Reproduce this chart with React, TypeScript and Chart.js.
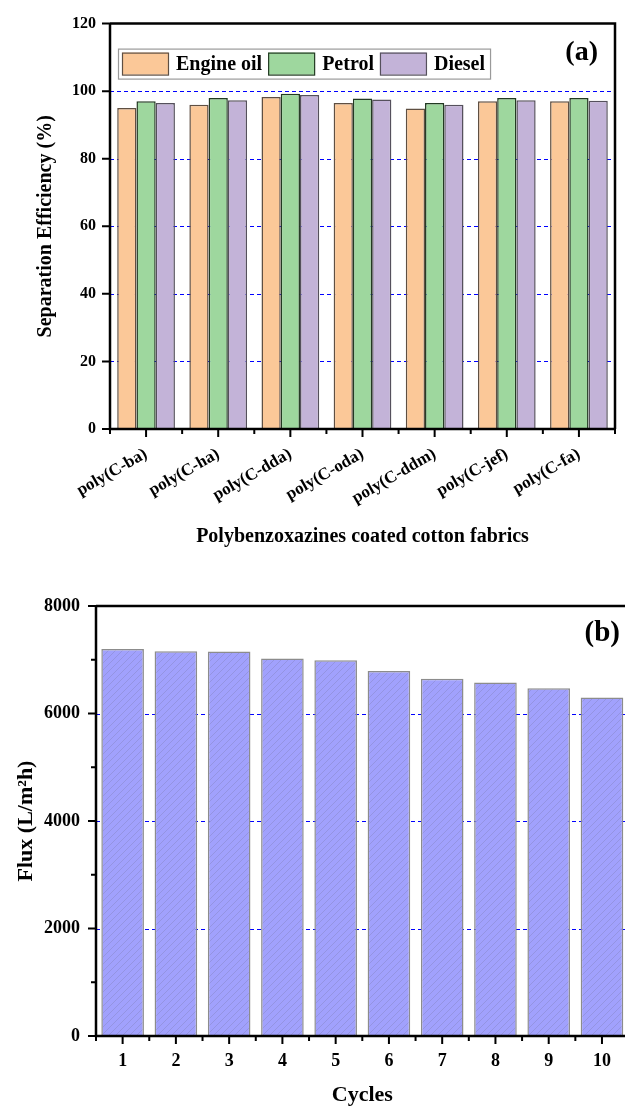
import React, { useEffect, useRef } from 'react';
import { Chart, registerables } from 'chart.js';

Chart.register(...registerables);

const FONT = "'Liberation Serif', 'Times New Roman', Times, serif";

// ---------- Panel (a) data ----------
const categoriesA = ['poly(C-ba)', 'poly(C-ha)', 'poly(C-dda)', 'poly(C-oda)', 'poly(C-ddm)', 'poly(C-jef)', 'poly(C-fa)'];
const engineOil = [95.0, 96.0, 98.3, 96.5, 94.9, 97.0, 97.0];
const petrol = [97.0, 98.0, 99.2, 97.8, 96.5, 98.0, 98.0];
const diesel = [96.5, 97.3, 98.9, 97.5, 96.0, 97.3, 97.2];
const yTicksA = [0, 20, 40, 60, 80, 100, 120];
const seriesNamesA = ['Engine oil', 'Petrol', 'Diesel'];

// ---------- Panel (b) data ----------
const cycles = ['1', '2', '3', '4', '5', '6', '7', '8', '9', '10'];
const flux = [7200, 7160, 7155, 7025, 6990, 6790, 6645, 6575, 6470, 6300];
const yTicksB = [0, 2000, 4000, 6000, 8000];
const yMinorB = [1000, 3000, 5000, 7000];

function makeHatch(): CanvasPattern | string {
  const s = 7;
  const c = document.createElement('canvas');
  c.width = s;
  c.height = s;
  const g = c.getContext('2d');
  if (!g) return '#a0a0ff';
  g.fillStyle = '#a1a1fd';
  g.fillRect(0, 0, s, s);
  g.strokeStyle = 'rgba(120,120,170,0.45)';
  g.lineWidth = 0.7;
  g.beginPath();
  g.moveTo(-1, s + 1); g.lineTo(s + 1, -1);
  g.moveTo(-s / 2 - 1, s / 2 + 1); g.lineTo(s / 2 + 1, -s / 2 - 1);
  g.moveTo(s / 2 - 1, s * 1.5 + 1); g.lineTo(s * 1.5 + 1, s / 2 - 1);
  g.stroke();
  return g.createPattern(c, 'repeat') || '#a0a0ff';
}

function drawTicksAndFrame(chart: any, yMajor: number[], yMinor: number[], drawRight: boolean) {
  const { ctx, chartArea: ca, scales } = chart;
  const x = scales.x;
  const y = scales.y;
  ctx.save();
  ctx.strokeStyle = '#000';
  ctx.lineWidth = 2.5;
  ctx.setLineDash([]);
  ctx.beginPath();
  ctx.moveTo(ca.left, ca.top);
  ctx.lineTo(ca.right, ca.top);
  if (drawRight) ctx.lineTo(ca.right, ca.bottom);
  ctx.moveTo(ca.left, ca.top);
  ctx.lineTo(ca.left, ca.bottom);
  ctx.lineTo(ca.right, ca.bottom);
  ctx.stroke();
  ctx.lineWidth = 2;
  ctx.beginPath();
  for (const v of yMajor) {
    const py = y.getPixelForValue(v);
    ctx.moveTo(ca.left - 8, py);
    ctx.lineTo(ca.left, py);
  }
  for (const v of yMinor) {
    const py = y.getPixelForValue(v);
    ctx.moveTo(ca.left - 5, py);
    ctx.lineTo(ca.left, py);
  }
  const n = chart.data.labels.length;
  for (let i = 0; i < n; i++) {
    const px = x.getPixelForValue(i);
    ctx.moveTo(px, ca.bottom);
    ctx.lineTo(px, ca.bottom + 8);
  }
  const step = n > 1 ? x.getPixelForValue(1) - x.getPixelForValue(0) : 0;
  for (let i = 0; i <= n; i++) {
    const px = x.getPixelForValue(0) - step / 2 + i * step;
    ctx.moveTo(px, ca.bottom);
    ctx.lineTo(px, ca.bottom + 5);
  }
  ctx.stroke();
  ctx.restore();
}

function drawDashedGrid(chart: any, values: number[], min: number, max: number) {
  const { ctx, chartArea: ca, scales } = chart;
  ctx.save();
  ctx.strokeStyle = '#0000ff';
  ctx.lineWidth = 1;
  ctx.setLineDash([4, 3]);
  for (const v of values) {
    if (v <= min || v >= max) continue;
    const py = Math.round(scales.y.getPixelForValue(v)) + 0.5;
    ctx.beginPath();
    ctx.moveTo(ca.left, py);
    ctx.lineTo(ca.right, py);
    ctx.stroke();
  }
  ctx.restore();
}

const pluginA = {
  id: 'decorA',
  beforeDatasetsDraw(chart: any) {
    drawDashedGrid(chart, yTicksA, 0, 120);
  },
  afterDatasetsDraw(chart: any) {
    drawTicksAndFrame(chart, yTicksA, [], true);
    const { ctx, chartArea: ca } = chart;
    ctx.save();
    ctx.font = `bold 20px ${FONT}`;
    ctx.textBaseline = 'middle';
    ctx.textAlign = 'left';
    const boxL = ca.left + 8;
    const boxT = ca.top + 25;
    const boxH = 30;
    let cx = boxL + 4;
    const items: { x: number; tx: number; w: number }[] = [];
    chart.data.datasets.forEach((ds: any) => {
      const w = ctx.measureText(ds.label).width;
      items.push({ x: cx, tx: cx + 46 + 8, w });
      cx = cx + 46 + 8 + w + 6;
    });
    const boxW = cx - 1 - boxL;
    ctx.fillStyle = '#fff';
    ctx.fillRect(boxL, boxT, boxW, boxH);
    ctx.strokeStyle = '#9a9a9a';
    ctx.lineWidth = 1.2;
    ctx.strokeRect(boxL + 0.5, boxT + 0.5, boxW, boxH);
    chart.data.datasets.forEach((ds: any, i: number) => {
      const it = items[i];
      ctx.fillStyle = ds.backgroundColor;
      ctx.fillRect(it.x, boxT + 4, 46, 22);
      ctx.strokeStyle = ds.borderColor;
      ctx.lineWidth = 1.2;
      ctx.strokeRect(it.x + 0.5, boxT + 4.5, 46, 22);
      ctx.fillStyle = '#000';
      ctx.fillText(ds.label, it.tx, boxT + boxH / 2 + 1);
    });
    ctx.font = `bold 28px ${FONT}`;
    ctx.textAlign = 'right';
    ctx.fillText('(a)', ca.right - 17, ca.top + 29);
    ctx.restore();
  },
};

const pluginB = {
  id: 'decorB',
  beforeDatasetsDraw(chart: any) {
    drawDashedGrid(chart, yTicksB, 0, 8000);
  },
  afterDatasetsDraw(chart: any) {
    drawTicksAndFrame(chart, yTicksB, yMinorB, true);
    const { ctx, chartArea: ca } = chart;
    ctx.save();
    ctx.font = `bold 29px ${FONT}`;
    ctx.textAlign = 'right';
    ctx.textBaseline = 'middle';
    ctx.fillStyle = '#000';
    ctx.fillText('(b)', 620, ca.top + 28);
    ctx.restore();
  },
};

export default function App() {
  const refA = useRef<HTMLCanvasElement>(null);
  const refB = useRef<HTMLCanvasElement>(null);

  useEffect(() => {
    const tickFont = (size: number) => ({ family: FONT, size, weight: 'bold' as const });

    const chartA = new Chart(refA.current as HTMLCanvasElement, {
      type: 'bar',
      data: {
        labels: categoriesA,
        datasets: [
          { label: seriesNamesA[0], data: engineOil, backgroundColor: '#fbc898', borderColor: '#5f4f42', borderWidth: 1.5, categoryPercentage: 0.8, barPercentage: 1.0 },
          { label: seriesNamesA[1], data: petrol, backgroundColor: '#9ed79e', borderColor: '#223a22', borderWidth: 1.5, categoryPercentage: 0.8, barPercentage: 1.0 },
          { label: seriesNamesA[2], data: diesel, backgroundColor: '#c3b3d8', borderColor: '#55505c', borderWidth: 1.5, categoryPercentage: 0.8, barPercentage: 1.0 },
        ],
      },
      options: {
        responsive: false,
        animation: false,
        layout: { padding: { left: 0, top: 22, right: 10, bottom: 0 } },
        plugins: { legend: { display: false }, tooltip: { enabled: false } },
        scales: {
          x: {
            type: 'category',
            offset: true,
            grid: { display: false, drawTicks: false },
            border: { display: false },
            ticks: { font: tickFont(17), color: '#000', minRotation: 30, maxRotation: 30, autoSkip: false, padding: 15 },
            title: { display: true, text: 'Polybenzoxazines coated cotton fabrics', color: '#000', font: tickFont(20), padding: { top: 0, bottom: 21 } },
            afterFit: (s: any) => { s.height = 141; },
          },
          y: {
            min: 0,
            max: 120,
            grid: { display: false, drawTicks: false },
            border: { display: false },
            ticks: { stepSize: 20, font: tickFont(16), color: '#000', padding: 14 },
            title: { display: true, text: 'Separation Efficiency (%)', color: '#000', font: tickFont(20), padding: { top: 34, bottom: 0 } },
            afterFit: (s: any) => { s.width = 110; },
          },
        },
      } as any,
      plugins: [pluginA],
    });

    const chartB = new Chart(refB.current as HTMLCanvasElement, {
      type: 'bar',
      data: {
        labels: cycles,
        datasets: [
          { label: 'Flux', data: flux, backgroundColor: makeHatch() as any, borderColor: '#8c8c8c', borderWidth: 1.5, categoryPercentage: 0.8, barPercentage: 1.0 },
        ],
      },
      options: {
        responsive: false,
        animation: false,
        layout: { padding: { left: 0, top: 36, right: 11.4, bottom: 0 } },
        plugins: { legend: { display: false }, tooltip: { enabled: false } },
        scales: {
          x: {
            type: 'category',
            offset: true,
            grid: { display: false, drawTicks: false },
            border: { display: false },
            ticks: { font: tickFont(18), color: '#000', maxRotation: 0, autoSkip: false, padding: 15 },
            title: { display: true, text: 'Cycles', color: '#000', font: tickFont(22), padding: { top: 0, bottom: 0 } },
            afterFit: (s: any) => { s.height = 73; },
          },
          y: {
            min: 0,
            max: 8000,
            grid: { display: false, drawTicks: false },
            border: { display: false },
            ticks: { stepSize: 2000, font: tickFont(18), color: '#000', padding: 16, callback: (v: any) => String(v) },
            title: { display: true, text: 'Flux (L/m²h)', color: '#000', font: tickFont(22), padding: { top: 13, bottom: 0 } },
            afterFit: (s: any) => { s.width = 96; },
          },
        },
      } as any,
      plugins: [pluginB],
    });

    return () => {
      chartA.destroy();
      chartB.destroy();
    };
  }, []);

  return (
    <div style={{ position: 'absolute', left: 0, top: 0, width: 625, height: 1107, overflow: 'hidden', background: '#fff' }}>
      <canvas ref={refA} width={625} height={570} style={{ position: 'absolute', left: 0, top: 0, width: 625, height: 570 }} />
      <canvas ref={refB} width={640} height={539} style={{ position: 'absolute', left: 0, top: 570, width: 640, height: 539 }} />
    </div>
  );
}
